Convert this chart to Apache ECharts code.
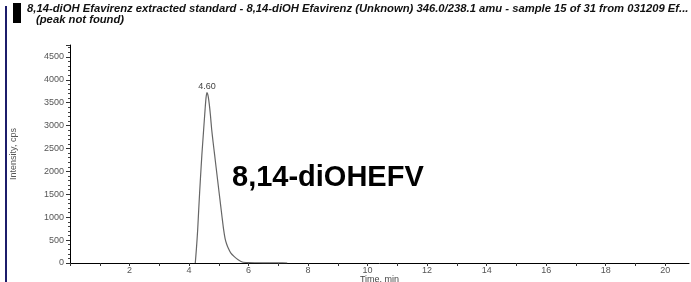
<!DOCTYPE html>
<html>
<head>
<meta charset="utf-8">
<script src="https://cdn.jsdelivr.net/npm/echarts@6/dist/echarts.min.js"></script>
<style>
  html, body { margin: 0; padding: 0; background: #fff; }
  #chart { width: 691px; height: 282px; }
</style>
</head>
<body>
<div id="chart"></div>
<script>
// chromatogram trace
const times = [4.21, 4.25, 4.29, 4.33, 4.38, 4.43, 4.49, 4.54, 4.57, 4.60, 4.64, 4.68, 4.72, 4.76, 4.81, 4.86, 4.91, 4.96, 5.01, 5.06, 5.11, 5.16, 5.21, 5.26, 5.32, 5.40, 5.52, 5.65, 5.79, 6.0, 6.3, 6.7, 7.0, 7.3];
const intensity = [0, 330, 720, 1230, 1812, 2350, 2904, 3360, 3600, 3720, 3650, 3470, 3220, 2920, 2630, 2360, 2085, 1812, 1540, 1270, 1000, 740, 540, 420, 320, 220, 138, 70, 22, 10, 5, 3, 2, 0];
const yTicks = [0, 500, 1000, 1500, 2000, 2500, 3000, 3500, 4000, 4500];

const titleLine1 = '8,14-diOH Efavirenz extracted standard - 8,14-diOH Efavirenz (Unknown) 346.0/238.1 amu - sample 15 of 31 from 031209 Ef...';
const titleLine2 = '(peak not found)';
const compound = '8,14-diOHEFV';

let peakIdx = intensity.indexOf(Math.max(...intensity));
let points = times.map((t, i) => [t, intensity[i]]);

let chart = echarts.init(document.getElementById('chart'));

chart.setOption({
    animation: false,
    grid: { left: 70, right: 2, top: 45, bottom: 19, outerBoundsMode: 'none', containLabel: false },
    xAxis: {
        type: 'value',
        min: 0,
        max: 20.8,
        interval: 1,
        name: 'Time, min',
        nameLocation: 'middle',
        nameGap: 12,
        nameMoveOverlap: false,
        nameTextStyle: { fontFamily: 'Liberation Sans', fontSize: 9, color: '#444', verticalAlign: 'top' },
        axisLine: { lineStyle: { color: '#000', width: 1 } },
        axisTick: { length: 3, lineStyle: { color: '#333' } },
        axisLabel: {
            margin: 3,
            fontFamily: 'Liberation Sans', fontSize: 9, color: '#555',
            showMaxLabel: false,
            formatter: v => (v > 0 && v % 2 === 0) ? String(v) : ''
        },
        splitLine: { show: false }
    },
    yAxis: {
        type: 'value',
        min: 0,
        max: 4760,
        interval: 500,
        name: 'Intensity, cps',
        nameLocation: 'middle',
        nameGap: 52,
        nameTextStyle: { fontFamily: 'Liberation Sans', fontSize: 9, color: '#555' },
        axisLine: { show: true, lineStyle: { color: '#000', width: 1 } },
        axisTick: { show: true, length: 4, lineStyle: { color: '#333' } },
        minorTick: { show: true, splitNumber: 5, length: 2, lineStyle: { color: '#444' } },
        axisLabel: {
            margin: 6,
            fontFamily: 'Liberation Sans', fontSize: 9, color: '#555',
            showMaxLabel: false,
            formatter: v => yTicks.indexOf(v) >= 0 ? String(v) : ''
        },
        splitLine: { show: false }
    },
    series: [{
        type: 'line',
        data: points,
        symbol: 'none',
        smooth: 0.2,
        lineStyle: { color: '#666', width: 1.2 },
        markPoint: {
            symbol: 'circle',
            symbolSize: 0,
            data: [{ coord: points[peakIdx] }],
            label: {
                show: true,
                position: 'top',
                distance: 2,
                fontFamily: 'Liberation Sans', fontSize: 9, color: '#444',
                formatter: () => times[peakIdx].toFixed(2)
            }
        }
    }],
    graphic: [
        { type: 'rect', shape: { x: 5, y: 6, width: 2, height: 276 }, style: { fill: '#1c1c6a' } },
        { type: 'rect', shape: { x: 13, y: 3, width: 8, height: 20 }, style: { fill: '#000' } },
        {
            type: 'text', left: 27, top: 3,
            style: { text: titleLine1, font: 'italic bold 11.25px "Liberation Sans"', fill: '#111' }
        },
        {
            type: 'text', left: 36, top: 14,
            style: { text: titleLine2, font: 'italic bold 11.25px "Liberation Sans"', fill: '#111' }
        },
        {
            type: 'text', left: 232, top: 163,
            style: { text: compound, font: 'bold 29px "Liberation Sans"', fill: '#000' }
        }
    ]
});
</script>
</body>
</html>
